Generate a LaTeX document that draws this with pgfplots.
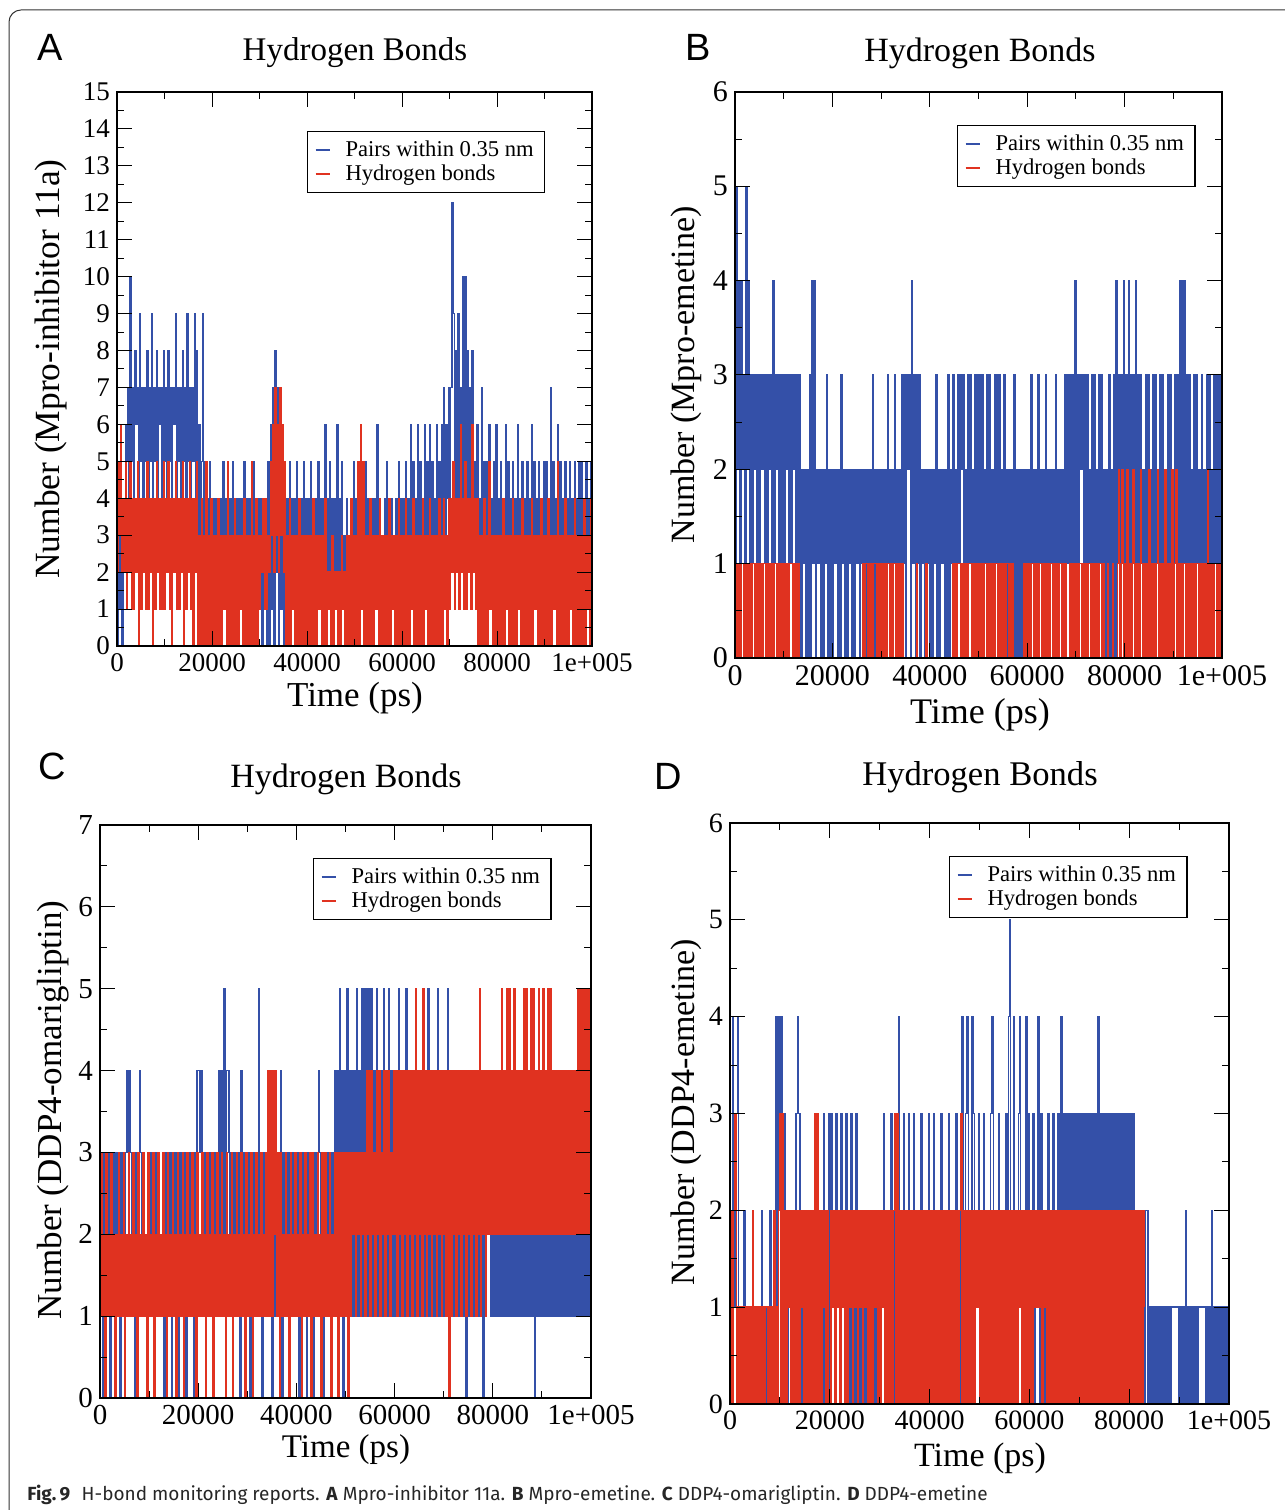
\documentclass[border=0pt]{standalone}
\usepackage{fontspec}
\setmainfont{Liberation Serif}
\newfontfamily\panelfont{Liberation Sans}
\newfontfamily\capfont{Fira Sans}
\usepackage{pgfplots}
\pgfplotsset{compat=1.18}
\definecolor{gblue}{RGB}{52,80,168}
\definecolor{gred}{RGB}{224,50,32}
\pgfplotsset{
  hb/.style={
    scale only axis, anchor=south west, axis on top,
    xmin=0, xmax=100000,
    xtick={0,20000,40000,60000,80000,100000},
    xticklabels={0,20000,40000,60000,80000,1e+005},
    minor x tick num=1, minor y tick num=1,
    scaled x ticks=false, scaled y ticks=false,
    /pgf/number format/assume math mode=true,
    major tick length=7.5pt, minor tick length=3.5pt,
    every tick/.style={black, line width=0.5pt},
    axis line style={line width=0.75pt},
    tick align=inside,
    legend cell align=left,
    legend image code/.code={\draw[##1, line width=0.9pt] (0pt,0pt) -- (7pt,0pt); \path[draw=none, fill=none] (0pt,0pt) -- (13pt,0pt);},
    legend style={anchor=north west, draw=black, line width=0.6pt,
      font=\fontsize{11.3}{12}\selectfont, inner xsep=3.5pt, inner ysep=2.6pt, row sep=-1.5pt},
  },
  hbplot/.style={const plot, line width=0.68pt, no marks},
}
\begin{document}
\begin{tikzpicture}
\useasboundingbox (0,0) rectangle (642.5pt,755pt);
\draw[line width=0.5pt, black!80, rounded corners=6pt] (660pt,750pt) -- (4.5pt,750pt) -- (4.5pt,-10pt);

% ---------------- Panel A ----------------
\begin{axis}[hb, at={(58.5pt,432pt)}, width=237.5pt, height=277pt,
  ymin=0, ymax=15, ytick={0,1,...,15},
  yticklabels={0,1,2,3,4,5,6,7,8,9,10,11,12,13,14,15},
  tick label style={font=\fontsize{13.5}{14}\selectfont},
  legend style={at={(0.4,0.9296)}}]
\addplot[gblue, hbplot] table[row sep=\\, header=false, x expr=\coordindex*250, y index=0] {
0\\5\\1\\6\\0\\4\\2\\6\\5\\7\\4\\10\\5\\7\\4\\8\\6\\7\\4\\9\\5\\7\\4\\7\\5\\8\\4\\7\\5\\9\\4\\7\\5\\8\\4\\7\\6\\7\\4\\8\\
5\\7\\4\\8\\5\\7\\4\\7\\6\\9\\4\\7\\5\\7\\4\\8\\5\\7\\4\\9\\5\\7\\4\\7\\5\\9\\4\\8\\3\\6\\2\\5\\9\\3\\5\\2\\4\\3\\5\\2\\
2\\4\\1\\4\\3\\4\\0\\4\\2\\5\\2\\4\\1\\4\\2\\4\\3\\5\\1\\4\\2\\4\\0\\4\\2\\4\\2\\5\\1\\4\\2\\4\\3\\4\\1\\5\\2\\4\\0\\4\\
1\\4\\0\\3\\2\\4\\0\\5\\0\\6\\1\\7\\0\\8\\2\\7\\0\\6\\1\\5\\0\\4\\2\\4\\1\\5\\2\\4\\1\\4\\2\\5\\2\\4\\1\\4\\2\\5\\1\\4\\
2\\4\\1\\5\\2\\4\\1\\4\\2\\5\\1\\4\\2\\4\\1\\6\\2\\4\\2\\5\\2\\4\\2\\4\\2\\6\\2\\4\\2\\5\\2\\3\\1\\4\\2\\3\\1\\4\\2\\5\\
1\\4\\2\\5\\1\\3\\2\\4\\1\\5\\2\\4\\1\\3\\2\\4\\1\\4\\2\\6\\1\\4\\2\\3\\1\\4\\2\\5\\1\\4\\2\\4\\1\\3\\2\\4\\1\\5\\2\\4\\
2\\4\\1\\5\\2\\4\\2\\6\\2\\5\\1\\4\\2\\6\\2\\5\\3\\4\\2\\6\\3\\5\\2\\6\\3\\5\\2\\4\\3\\6\\2\\5\\3\\6\\3\\7\\3\\6\\4\\7\\
3\\7\\12\\9\\3\\8\\4\\9\\3\\7\\4\\10\\3\\10\\4\\8\\3\\7\\4\\8\\2\\5\\3\\6\\2\\4\\3\\7\\2\\5\\3\\5\\2\\6\\3\\4\\2\\5\\3\\6\\
2\\4\\3\\5\\2\\4\\1\\6\\2\\5\\3\\4\\2\\5\\1\\4\\2\\6\\3\\4\\2\\5\\2\\4\\1\\5\\3\\4\\2\\6\\2\\5\\1\\4\\3\\5\\2\\4\\2\\5\\
2\\5\\1\\4\\2\\7\\3\\5\\2\\4\\1\\6\\2\\5\\3\\4\\2\\5\\1\\4\\3\\5\\2\\4\\2\\5\\1\\4\\3\\5\\2\\5\\1\\4\\2\\5\\2\\4\\1\\5\\4\\
};
\addlegendentry{Pairs within 0.35 nm}
\addplot[gred, hbplot] table[row sep=\\, header=false, x expr=\coordindex*250, y index=0] {
2\\5\\3\\6\\2\\4\\2\\5\\1\\4\\2\\5\\1\\4\\1\\4\\2\\5\\0\\4\\1\\4\\2\\4\\1\\5\\1\\4\\2\\4\\0\\4\\1\\5\\2\\4\\1\\4\\1\\5\\
1\\4\\2\\5\\1\\4\\0\\4\\2\\5\\1\\4\\1\\4\\2\\5\\0\\4\\1\\4\\2\\5\\1\\4\\0\\4\\2\\5\\0\\3\\0\\4\\0\\3\\0\\5\\0\\3\\0\\4\\
0\\3\\0\\3\\0\\4\\0\\3\\0\\3\\1\\3\\0\\5\\0\\3\\0\\3\\0\\4\\0\\3\\0\\3\\1\\3\\0\\4\\0\\3\\0\\3\\0\\5\\0\\3\\0\\4\\0\\3\\
1\\3\\2\\4\\1\\4\\1\\3\\2\\5\\3\\6\\2\\7\\3\\6\\2\\7\\3\\6\\2\\5\\0\\3\\0\\4\\0\\3\\1\\3\\0\\3\\0\\4\\0\\3\\0\\3\\0\\3\\
0\\3\\0\\3\\0\\4\\0\\3\\0\\3\\1\\3\\0\\3\\0\\4\\0\\2\\1\\2\\0\\3\\0\\2\\1\\2\\0\\2\\0\\3\\1\\2\\0\\3\\0\\3\\0\\4\\0\\3\\
0\\3\\0\\5\\0\\6\\1\\5\\0\\3\\0\\3\\0\\4\\0\\3\\0\\3\\1\\3\\0\\4\\0\\3\\0\\3\\0\\3\\0\\4\\0\\3\\1\\3\\0\\3\\0\\4\\0\\3\\
0\\3\\0\\4\\0\\3\\0\\3\\1\\4\\0\\3\\0\\3\\0\\3\\0\\4\\0\\3\\1\\3\\0\\4\\0\\3\\0\\3\\0\\3\\0\\4\\0\\3\\0\\4\\1\\3\\0\\4\\
1\\4\\2\\5\\1\\4\\2\\4\\1\\6\\2\\4\\1\\5\\1\\4\\2\\4\\1\\6\\2\\4\\1\\4\\0\\3\\0\\3\\0\\4\\0\\3\\0\\5\\1\\3\\0\\3\\0\\3\\
0\\3\\0\\3\\0\\4\\0\\3\\1\\3\\0\\3\\0\\4\\0\\3\\0\\3\\1\\3\\0\\4\\0\\3\\0\\3\\0\\3\\0\\4\\0\\3\\1\\3\\0\\3\\0\\4\\0\\3\\
0\\3\\0\\4\\0\\3\\0\\3\\1\\3\\0\\5\\0\\3\\0\\3\\0\\4\\0\\3\\0\\3\\1\\3\\0\\4\\0\\3\\0\\3\\0\\3\\0\\4\\0\\3\\1\\3\\0\\4\\2\\
};
\addlegendentry{Hydrogen bonds}
\end{axis}

% ---------------- Panel B ----------------
\begin{axis}[hb, at={(367.5pt,426pt)}, width=243.5pt, height=283pt,
  ymin=0, ymax=6, ytick={0,1,...,6}, yticklabels={0,1,2,3,4,5,6},
  tick label style={font=\fontsize{15}{15}\selectfont},
  legend style={at={(0.456,0.9417)}}]
\addplot[gblue, hbplot] table[row sep=\\, header=false, x expr=\coordindex*250, y index=0] {
0\\5\\2\\4\\1\\4\\2\\3\\1\\5\\2\\4\\1\\3\\1\\3\\2\\3\\1\\3\\1\\3\\2\\3\\1\\3\\1\\3\\2\\3\\1\\4\\1\\3\\2\\3\\1\\3\\1\\3\\
1\\3\\2\\3\\1\\3\\1\\3\\2\\3\\1\\3\\1\\3\\0\\2\\1\\2\\0\\2\\0\\3\\0\\4\\1\\4\\0\\2\\1\\2\\0\\2\\0\\2\\1\\3\\0\\2\\0\\2\\
0\\2\\1\\2\\0\\2\\0\\3\\1\\2\\0\\2\\0\\2\\1\\2\\0\\2\\0\\2\\1\\2\\0\\2\\1\\2\\0\\2\\0\\2\\1\\2\\0\\3\\0\\2\\1\\2\\0\\2\\
0\\2\\1\\2\\0\\3\\1\\2\\0\\2\\1\\3\\0\\2\\1\\2\\0\\3\\1\\3\\0\\3\\2\\3\\0\\4\\1\\3\\0\\3\\1\\3\\0\\2\\1\\2\\0\\2\\1\\2\\
0\\2\\0\\2\\1\\3\\0\\2\\0\\2\\1\\2\\0\\2\\0\\3\\0\\2\\1\\3\\1\\2\\1\\3\\1\\3\\2\\3\\1\\2\\1\\3\\1\\3\\1\\2\\1\\3\\1\\3\\
1\\3\\1\\3\\1\\2\\1\\3\\1\\3\\1\\2\\1\\3\\1\\3\\1\\3\\1\\2\\1\\3\\1\\2\\0\\2\\0\\2\\0\\3\\0\\2\\0\\2\\0\\2\\0\\2\\0\\2\\
1\\2\\1\\3\\1\\2\\1\\2\\1\\3\\1\\2\\1\\2\\1\\3\\1\\2\\1\\2\\1\\2\\1\\3\\1\\2\\1\\2\\1\\2\\1\\3\\1\\3\\1\\3\\1\\3\\1\\4\\
1\\3\\1\\3\\2\\3\\1\\3\\1\\3\\1\\2\\1\\3\\1\\3\\1\\2\\1\\3\\1\\3\\1\\2\\0\\2\\0\\3\\0\\2\\0\\3\\0\\4\\1\\3\\1\\3\\1\\4\\
1\\3\\1\\4\\1\\3\\1\\3\\1\\4\\1\\3\\1\\3\\1\\2\\1\\3\\1\\3\\1\\2\\1\\3\\1\\3\\1\\2\\1\\3\\1\\3\\1\\2\\1\\3\\1\\3\\1\\2\\
1\\3\\1\\3\\1\\4\\1\\4\\1\\4\\1\\3\\1\\3\\1\\2\\1\\3\\1\\3\\1\\2\\1\\3\\1\\2\\1\\3\\1\\3\\1\\2\\1\\3\\1\\3\\1\\3\\1\\3\\2\\
};
\addlegendentry{Pairs within 0.35 nm}
\addplot[gred, hbplot] table[row sep=\\, header=false, x expr=\coordindex*250, y index=0] {
0\\1\\0\\1\\0\\1\\1\\0\\1\\0\\1\\0\\1\\0\\1\\1\\0\\1\\0\\1\\0\\1\\0\\1\\1\\0\\1\\0\\1\\0\\1\\0\\1\\1\\0\\1\\0\\1\\0\\1\\
0\\1\\0\\1\\0\\1\\1\\0\\1\\0\\1\\0\\1\\0\\0\\0\\0\\0\\0\\0\\0\\0\\0\\0\\0\\0\\0\\0\\0\\0\\0\\0\\0\\0\\0\\0\\0\\0\\0\\0\\
0\\0\\0\\0\\0\\0\\0\\0\\0\\0\\0\\0\\0\\0\\0\\0\\0\\0\\0\\0\\0\\0\\0\\0\\0\\1\\0\\1\\1\\0\\1\\0\\1\\0\\1\\1\\0\\1\\0\\1\\
0\\1\\0\\1\\0\\1\\1\\0\\1\\0\\1\\1\\0\\1\\0\\1\\0\\1\\0\\0\\0\\0\\0\\0\\0\\0\\0\\0\\0\\1\\0\\0\\0\\0\\0\\0\\0\\1\\0\\0\\
0\\0\\0\\0\\0\\0\\0\\0\\0\\0\\0\\0\\0\\0\\0\\0\\0\\0\\0\\1\\0\\1\\0\\1\\1\\0\\1\\0\\1\\0\\1\\0\\1\\1\\0\\1\\0\\1\\0\\1\\
0\\1\\0\\1\\0\\1\\1\\0\\1\\0\\1\\0\\1\\0\\1\\1\\0\\1\\0\\1\\0\\1\\0\\1\\1\\0\\1\\0\\1\\0\\0\\0\\0\\0\\0\\0\\0\\1\\0\\1\\
0\\1\\0\\1\\1\\0\\1\\0\\1\\0\\1\\1\\0\\1\\0\\1\\0\\1\\0\\1\\1\\0\\1\\0\\1\\0\\1\\1\\0\\1\\0\\1\\0\\0\\0\\1\\0\\1\\0\\1\\
0\\1\\0\\1\\1\\0\\1\\0\\1\\0\\1\\1\\0\\1\\0\\1\\0\\1\\0\\1\\1\\0\\1\\0\\0\\0\\1\\0\\0\\0\\1\\0\\0\\0\\1\\2\\0\\1\\2\\0\\
1\\0\\2\\0\\1\\0\\1\\2\\0\\1\\0\\1\\0\\2\\1\\0\\1\\0\\1\\0\\2\\0\\1\\0\\1\\0\\1\\2\\0\\1\\0\\1\\0\\2\\0\\1\\0\\1\\0\\2\\
0\\1\\2\\0\\1\\0\\1\\0\\1\\1\\0\\1\\0\\1\\0\\1\\0\\1\\0\\1\\1\\0\\1\\0\\1\\0\\1\\0\\2\\0\\1\\0\\1\\0\\1\\1\\0\\1\\0\\1\\0\\
};
\addlegendentry{Hydrogen bonds}
\end{axis}

% ---------------- Panel C ----------------
\begin{axis}[hb, at={(50pt,56pt)}, width=245.5pt, height=286.5pt,
  ymin=0, ymax=7, ytick={0,1,...,7}, yticklabels={0,1,2,3,4,5,6,7},
  tick label style={font=\fontsize{14.5}{15}\selectfont},
  legend style={at={(0.434,0.9424)}}]
\addplot[gblue, hbplot] table[row sep=\\, header=false, x expr=\coordindex*250, y index=0] {
1\\3\\0\\3\\1\\2\\1\\3\\0\\3\\1\\3\\2\\3\\1\\3\\0\\3\\1\\3\\1\\3\\4\\3\\4\\3\\1\\3\\0\\3\\1\\3\\4\\3\\1\\3\\1\\2\\0\\3\\
1\\3\\1\\3\\0\\3\\1\\3\\1\\2\\1\\3\\0\\3\\1\\3\\1\\3\\0\\3\\1\\3\\1\\3\\0\\3\\1\\2\\1\\3\\0\\3\\1\\3\\1\\3\\0\\3\\1\\4\\
4\\3\\4\\3\\1\\3\\0\\3\\1\\3\\1\\3\\0\\3\\1\\3\\1\\4\\1\\4\\1\\5\\1\\4\\4\\3\\1\\3\\0\\3\\1\\3\\1\\3\\0\\4\\1\\3\\0\\3\\
1\\3\\0\\3\\1\\3\\1\\2\\1\\5\\1\\3\\0\\3\\1\\3\\1\\3\\1\\3\\0\\3\\1\\3\\1\\3\\1\\4\\0\\3\\1\\3\\1\\3\\0\\3\\1\\3\\1\\3\\
1\\3\\0\\3\\1\\3\\1\\3\\0\\3\\1\\3\\1\\3\\0\\3\\1\\3\\4\\3\\1\\3\\0\\3\\1\\3\\1\\3\\0\\3\\1\\4\\1\\4\\1\\5\\1\\4\\0\\4\\
1\\5\\1\\4\\1\\4\\1\\4\\1\\5\\1\\4\\2\\5\\1\\5\\2\\5\\1\\5\\2\\5\\1\\4\\2\\5\\1\\4\\2\\4\\1\\5\\2\\4\\1\\5\\2\\4\\1\\4\\
1\\4\\2\\5\\1\\4\\2\\4\\1\\5\\2\\4\\1\\4\\2\\4\\1\\5\\2\\4\\1\\4\\2\\4\\1\\4\\2\\5\\1\\4\\2\\4\\1\\4\\2\\5\\1\\4\\2\\4\\
1\\4\\2\\5\\1\\4\\2\\4\\1\\4\\2\\4\\1\\4\\2\\4\\1\\4\\0\\4\\1\\4\\2\\4\\1\\4\\2\\4\\1\\4\\2\\4\\0\\4\\1\\4\\2\\4\\1\\4\\
1\\4\\1\\4\\1\\4\\1\\3\\1\\4\\1\\4\\1\\4\\1\\3\\1\\4\\1\\4\\1\\4\\1\\4\\1\\3\\1\\4\\1\\4\\1\\4\\1\\4\\0\\4\\1\\4\\1\\4\\
1\\4\\1\\4\\1\\3\\1\\4\\1\\4\\1\\4\\1\\4\\1\\3\\1\\4\\1\\4\\1\\4\\1\\4\\1\\4\\1\\3\\1\\4\\1\\4\\1\\4\\1\\4\\1\\3\\1\\5\\5\\
};
\addlegendentry{Pairs within 0.35 nm}
\addplot[gred, hbplot] table[row sep=\\, header=false, x expr=\coordindex*250, y index=0] {
1\\3\\1\\2\\0\\3\\1\\2\\1\\3\\1\\2\\0\\2\\1\\3\\1\\2\\1\\3\\0\\2\\1\\3\\1\\2\\1\\3\\1\\2\\0\\3\\1\\2\\1\\3\\1\\2\\0\\3\\
1\\2\\1\\3\\0\\2\\1\\3\\1\\2\\1\\3\\1\\2\\0\\3\\1\\2\\1\\3\\1\\2\\0\\3\\1\\2\\1\\3\\0\\2\\1\\3\\1\\2\\1\\3\\1\\2\\0\\3\\
1\\2\\1\\3\\1\\2\\0\\3\\1\\2\\1\\3\\0\\2\\1\\3\\1\\2\\1\\3\\1\\2\\0\\3\\1\\2\\1\\3\\0\\2\\1\\3\\1\\2\\1\\3\\1\\2\\0\\3\\
1\\2\\1\\3\\0\\2\\1\\3\\1\\2\\1\\3\\1\\2\\1\\3\\1\\4\\1\\4\\1\\4\\2\\4\\1\\3\\0\\3\\1\\2\\1\\3\\1\\2\\0\\3\\1\\2\\1\\3\\
1\\2\\1\\3\\0\\2\\1\\3\\1\\2\\1\\3\\0\\3\\1\\2\\1\\3\\1\\2\\0\\3\\1\\3\\1\\2\\1\\3\\0\\2\\1\\3\\1\\3\\0\\3\\1\\3\\1\\3\\
1\\3\\0\\3\\1\\3\\2\\3\\1\\3\\2\\3\\1\\3\\2\\3\\1\\4\\2\\4\\1\\4\\2\\3\\1\\4\\2\\4\\1\\3\\2\\4\\1\\4\\2\\4\\1\\3\\2\\4\\
2\\4\\1\\4\\2\\4\\1\\4\\2\\4\\1\\4\\2\\4\\1\\4\\2\\5\\1\\4\\2\\4\\1\\5\\2\\4\\1\\4\\2\\4\\1\\4\\2\\4\\1\\4\\2\\4\\1\\4\\
2\\4\\1\\4\\0\\4\\1\\4\\2\\4\\1\\4\\2\\4\\1\\4\\2\\4\\1\\4\\2\\4\\1\\4\\2\\4\\1\\4\\2\\5\\1\\4\\2\\4\\1\\4\\2\\4\\2\\4\\
2\\4\\2\\4\\2\\4\\2\\5\\2\\4\\2\\5\\2\\5\\2\\4\\2\\5\\2\\4\\2\\4\\2\\4\\2\\5\\2\\5\\2\\4\\2\\5\\2\\5\\2\\4\\2\\5\\2\\4\\
2\\5\\2\\4\\2\\5\\2\\5\\2\\4\\2\\4\\2\\4\\2\\4\\2\\4\\2\\4\\2\\4\\2\\4\\2\\4\\2\\4\\2\\5\\2\\5\\2\\5\\2\\5\\2\\5\\2\\5\\4\\
};
\addlegendentry{Hydrogen bonds}
\end{axis}

% ---------------- Panel D ----------------
\begin{axis}[hb, at={(365pt,53pt)}, width=249.5pt, height=290.5pt,
  ymin=0, ymax=6, ytick={0,1,...,6}, yticklabels={0,1,2,3,4,5,6},
  tick label style={font=\fontsize{14}{14}\selectfont},
  legend style={at={(0.439,0.943)}}]
\addplot[gblue, hbplot] table[row sep=\\, header=false, x expr=\coordindex*250, y index=0] {
1\\2\\4\\2\\1\\3\\4\\1\\0\\1\\0\\2\\0\\1\\0\\1\\1\\0\\2\\0\\1\\0\\1\\0\\1\\2\\0\\1\\1\\0\\1\\0\\2\\0\\1\\0\\1\\4\\1\\4\\
2\\4\\1\\3\\0\\2\\0\\2\\1\\2\\0\\2\\0\\3\\4\\3\\0\\2\\0\\2\\1\\2\\0\\2\\0\\2\\1\\2\\0\\2\\0\\2\\1\\2\\0\\3\\0\\2\\1\\3\\
0\\3\\1\\2\\0\\3\\1\\2\\0\\3\\1\\2\\0\\3\\1\\2\\0\\3\\1\\2\\0\\3\\1\\2\\0\\2\\1\\2\\0\\2\\1\\2\\0\\2\\1\\2\\0\\2\\1\\2\\
0\\2\\1\\3\\0\\2\\1\\2\\0\\3\\1\\2\\0\\2\\1\\4\\0\\2\\1\\3\\0\\2\\1\\3\\0\\2\\1\\3\\0\\2\\1\\2\\0\\3\\1\\2\\0\\2\\1\\3\\
0\\2\\1\\3\\0\\2\\1\\2\\0\\3\\1\\2\\0\\2\\1\\3\\0\\2\\1\\2\\0\\3\\1\\2\\0\\2\\4\\2\\0\\3\\4\\2\\0\\2\\4\\3\\0\\2\\1\\3\\
1\\2\\0\\3\\1\\2\\0\\2\\1\\3\\4\\2\\0\\2\\1\\3\\0\\2\\1\\2\\0\\3\\1\\4\\5\\2\\0\\4\\1\\2\\0\\3\\4\\2\\0\\2\\1\\4\\0\\3\\
0\\2\\1\\3\\0\\2\\1\\4\\0\\3\\1\\2\\0\\2\\1\\3\\0\\2\\1\\3\\0\\2\\1\\3\\2\\4\\2\\3\\2\\3\\2\\3\\2\\3\\1\\3\\2\\3\\2\\3\\
2\\3\\1\\3\\2\\3\\2\\3\\1\\3\\2\\3\\2\\3\\2\\4\\2\\3\\1\\3\\2\\3\\2\\3\\1\\3\\2\\3\\2\\3\\2\\3\\1\\3\\2\\3\\2\\3\\2\\3\\
2\\3\\2\\3\\1\\2\\0\\2\\0\\2\\0\\2\\0\\2\\2\\0\\1\\0\\1\\0\\1\\0\\1\\0\\1\\0\\1\\0\\1\\0\\1\\0\\1\\0\\1\\1\\1\\1\\1\\1\\
0\\1\\0\\1\\0\\2\\0\\1\\0\\1\\0\\1\\0\\1\\0\\1\\1\\1\\1\\1\\1\\0\\1\\0\\1\\0\\2\\0\\1\\0\\1\\0\\1\\0\\1\\0\\1\\0\\1\\0\\1\\
};
\addlegendentry{Pairs within 0.35 nm}
\addplot[gred, hbplot] table[row sep=\\, header=false, x expr=\coordindex*250, y index=0] {
0\\2\\0\\2\\3\\0\\1\\0\\1\\0\\1\\0\\1\\0\\1\\0\\1\\0\\2\\0\\1\\0\\1\\0\\1\\0\\1\\0\\1\\1\\0\\1\\0\\1\\0\\2\\0\\1\\0\\2\\
3\\0\\3\\0\\2\\0\\2\\1\\2\\0\\2\\0\\2\\0\\2\\0\\2\\1\\2\\0\\2\\0\\2\\0\\2\\0\\2\\0\\3\\0\\3\\0\\2\\0\\2\\1\\2\\0\\2\\0\\
0\\2\\1\\2\\0\\2\\1\\2\\0\\2\\1\\2\\0\\2\\0\\2\\1\\2\\0\\2\\1\\2\\0\\2\\1\\2\\0\\2\\1\\2\\0\\2\\0\\2\\0\\2\\1\\2\\0\\2\\
0\\2\\1\\2\\0\\2\\0\\2\\0\\2\\0\\2\\3\\0\\3\\0\\2\\0\\2\\0\\2\\0\\2\\0\\2\\0\\2\\0\\2\\0\\2\\0\\2\\0\\2\\0\\2\\0\\2\\0\\
2\\0\\2\\0\\2\\0\\2\\0\\2\\0\\2\\0\\2\\0\\2\\0\\2\\0\\2\\0\\2\\0\\2\\0\\2\\3\\0\\2\\0\\2\\0\\2\\0\\2\\0\\2\\0\\2\\1\\2\\
0\\2\\0\\2\\0\\2\\0\\2\\0\\2\\0\\2\\0\\2\\0\\2\\0\\2\\0\\2\\0\\2\\0\\2\\0\\2\\0\\2\\0\\2\\0\\2\\1\\2\\0\\2\\0\\2\\0\\2\\
0\\2\\0\\2\\1\\2\\1\\2\\1\\2\\0\\2\\1\\2\\0\\2\\0\\2\\0\\2\\0\\2\\0\\2\\0\\2\\0\\2\\0\\2\\0\\2\\0\\2\\0\\2\\0\\2\\0\\2\\
0\\2\\0\\2\\0\\2\\0\\2\\0\\2\\0\\2\\0\\2\\0\\2\\0\\2\\0\\2\\0\\2\\0\\2\\0\\2\\0\\2\\0\\2\\0\\2\\0\\2\\0\\2\\0\\2\\0\\2\\
0\\2\\0\\2\\0\\2\\0\\2\\0\\2\\0\\2\\1\\
};
\addlegendentry{Hydrogen bonds}
\end{axis}

% ---------------- texts ----------------
\begin{scope}[every node/.style={inner sep=0pt}]
\node[font=\panelfont\fontsize{19}{19}\selectfont] at (25pt,731.5pt) {A};
\node[font=\panelfont\fontsize{19}{19}\selectfont] at (349pt,731.5pt) {B};
\node[font=\panelfont\fontsize{19}{19}\selectfont] at (26pt,372pt) {C};
\node[font=\panelfont\fontsize{19}{19}\selectfont] at (334pt,367pt) {D};
\node[font=\fontsize{16.5}{17}\selectfont] at (177.5pt,728.5pt) {Hydrogen Bonds};
\node[font=\fontsize{17}{17}\selectfont] at (490pt,728.5pt) {Hydrogen Bonds};
\node[font=\fontsize{17}{17}\selectfont] at (173pt,365.5pt) {Hydrogen Bonds};
\node[font=\fontsize{17.3}{17}\selectfont] at (490pt,366.5pt) {Hydrogen Bonds};
\node[font=\fontsize{17.5}{17}\selectfont] at (177.5pt,406pt) {Time (ps)};
\node[font=\fontsize{18}{18}\selectfont] at (490pt,397.5pt) {Time (ps)};
\node[font=\fontsize{16.5}{17}\selectfont] at (173pt,30pt) {Time (ps)};
\node[font=\fontsize{17}{17}\selectfont] at (490pt,26pt) {Time (ps)};
\node[font=\fontsize{17.7}{18}\selectfont, rotate=90] at (25.5pt,570.5pt) {Number (Mpro-inhibitor 11a)};
\node[font=\fontsize{17}{17}\selectfont, rotate=90] at (343pt,567.5pt) {Number (Mpro-emetine)};
\node[font=\fontsize{17.5}{18}\selectfont, rotate=90] at (26.5pt,200pt) {Number (DDP4-omarigliptin)};
\node[font=\fontsize{17}{17}\selectfont, rotate=90] at (343pt,199pt) {Number (DDP4-emetine)};
\node[anchor=base west, font=\capfont\fontsize{9.5}{10}\selectfont, text=black!85] at (13.5pt,5pt)
  {\textbf{Fig.\,9}\hspace{0.6em}H-bond monitoring reports. \textbf{A} Mpro-inhibitor 11a. \textbf{B} Mpro-emetine. \textbf{C} DDP4-omarigliptin. \textbf{D} DDP4-emetine};
\end{scope}
\end{tikzpicture}
\end{document}
